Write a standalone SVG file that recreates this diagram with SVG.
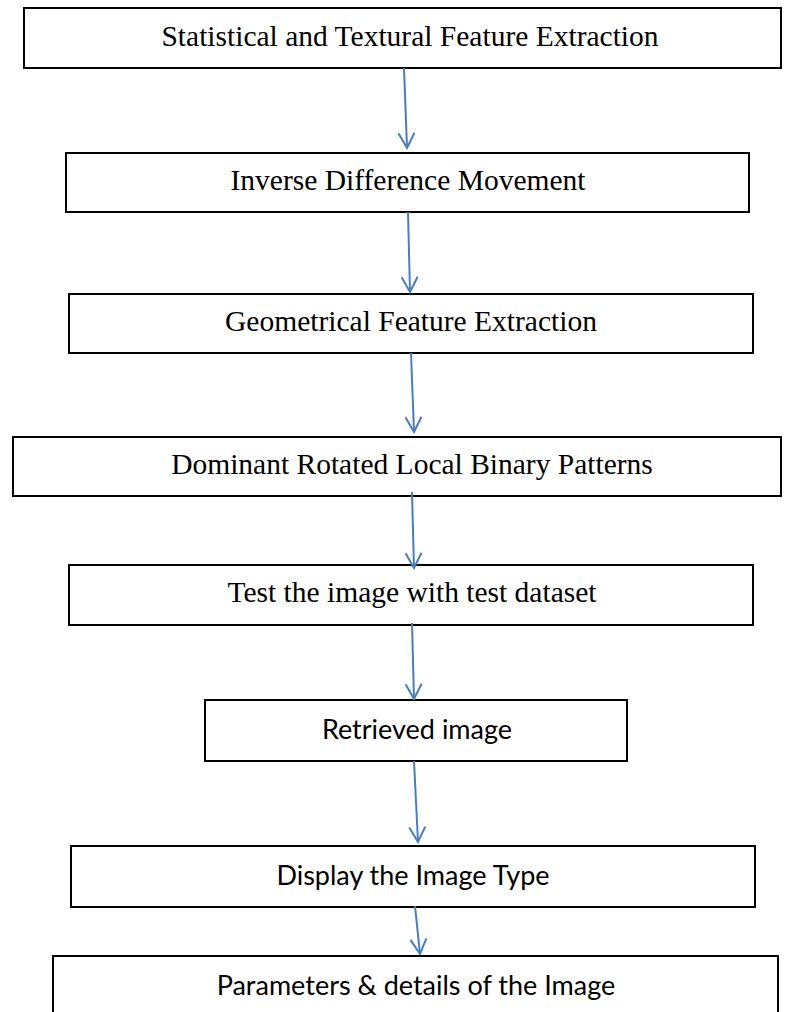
<svg xmlns="http://www.w3.org/2000/svg" width="797" height="1012" viewBox="0 0 797 1012">
<defs>
<style>
.box{fill:#fff;stroke:#000;stroke-width:2}
.serif{font-family:"Liberation Serif","Times New Roman",serif;font-size:29.5px;fill:#000;text-anchor:middle}
.sans{font-family:Lato,"Liberation Sans",sans-serif;font-size:27px;fill:#000;text-anchor:middle}
.conn{stroke:#4a7ebb;stroke-width:2;fill:none}
</style>
<marker id="arr" viewBox="0 0 20 20" refX="18" refY="10" markerWidth="20" markerHeight="20" markerUnits="userSpaceOnUse" orient="auto">
<path d="M3,2 L18,10 L3,18" fill="none" stroke="#4a7ebb" stroke-width="2"/>
</marker>
</defs>
<rect width="797" height="1012" fill="#fff"/>
<g id="n1"><rect class="box" x="24" y="8" width="757" height="60"/><text class="serif" x="410" y="46">Statistical and Textural Feature Extraction</text></g>
<g id="n2"><rect class="box" x="66" y="153" width="683" height="59"/><text class="serif" x="408" y="190">Inverse Difference Movement</text></g>
<g id="n3"><rect class="box" x="69" y="294" width="684" height="59"/><text class="serif" x="411" y="331">Geometrical Feature Extraction</text></g>
<g id="n4"><rect class="box" x="13" y="437" width="768" height="59"/><text class="serif" x="412" y="474">Dominant Rotated Local Binary Patterns</text></g>
<g id="n5"><rect class="box" x="69" y="565" width="684" height="60"/><text class="serif" x="412" y="602">Test the image with test dataset</text></g>
<g id="n6"><rect class="box" x="205" y="700" width="422" height="61"/><text class="sans" x="417" y="739">Retrieved image</text></g>
<g id="n7"><rect class="box" x="71" y="846" width="684" height="61"/><text class="sans" x="413" y="885">Display the Image Type</text></g>
<g id="n8"><rect class="box" x="53" y="956" width="725" height="70"/><text class="sans" x="416" y="995">Parameters &amp; details of the Image</text></g>
<g id="connectors">
<line class="conn" x1="404" y1="68" x2="407" y2="148" marker-end="url(#arr)"/>
<line class="conn" x1="408" y1="212" x2="410" y2="292" marker-end="url(#arr)"/>
<line class="conn" x1="411" y1="353" x2="414" y2="432" marker-end="url(#arr)"/>
<line class="conn" x1="412" y1="492" x2="414" y2="568" marker-end="url(#arr)"/>
<line class="conn" x1="412" y1="623" x2="414" y2="699" marker-end="url(#arr)"/>
<line class="conn" x1="414" y1="761" x2="418" y2="842" marker-end="url(#arr)"/>
<line class="conn" x1="415" y1="906" x2="420" y2="954" marker-end="url(#arr)"/>
</g>
</svg>
